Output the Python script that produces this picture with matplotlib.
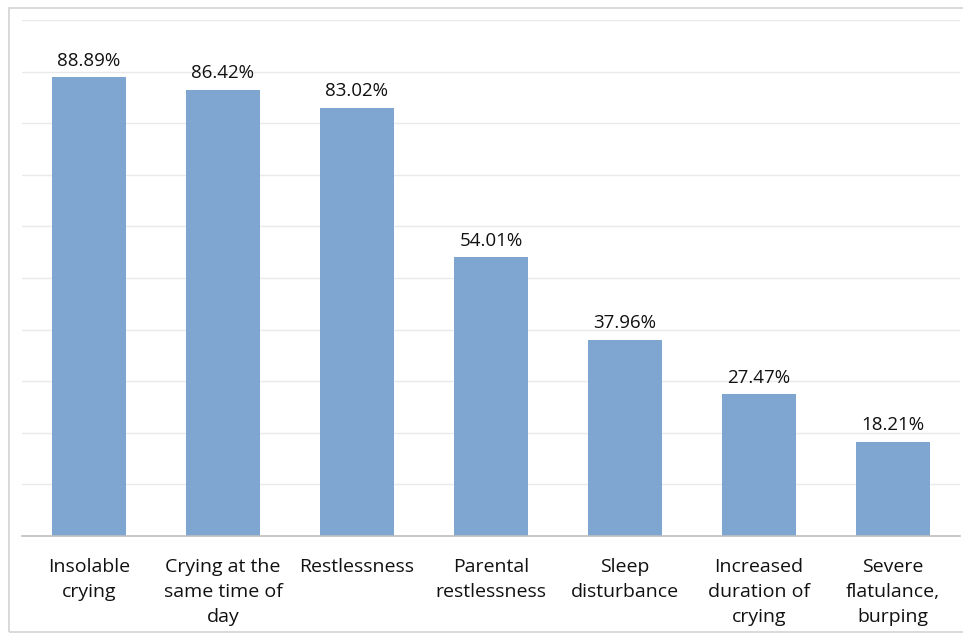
import matplotlib
matplotlib.use("Agg")
import matplotlib.pyplot as plt
from matplotlib.patches import Rectangle

categories = [
    "Insolable\ncrying",
    "Crying at the\nsame time of\nday",
    "Restlessness",
    "Parental\nrestlessness",
    "Sleep\ndisturbance",
    "Increased\nduration of\ncrying",
    "Severe\nflatulance,\nburping",
]
values = [88.89, 86.42, 83.02, 54.01, 37.96, 27.47, 18.21]
value_labels = ["88.89%", "86.42%", "83.02%", "54.01%", "37.96%", "27.47%", "18.21%"]

plt.rcParams["font.family"] = ["Open Sans", "DejaVu Sans"]

W, H = 963, 637
fig = plt.figure(figsize=(W / 100, H / 100), dpi=100)
fig.patch.set_facecolor("white")

# light frame around the chart area (right edge runs off the canvas)
fig.add_artist(Rectangle((9 / W, 1 - 632 / H), (975 - 9) / W, (632 - 8) / H,
                         transform=fig.transFigure, fill=False,
                         edgecolor="#D9D9D9", linewidth=1.4))

ax = fig.add_axes([22 / W, 1 - 536 / H, (960 - 22) / W, (536 - 20) / H])
x = list(range(len(categories)))
ax.bar(x, values, width=0.55, color="#7FA6D1", zorder=2)

for xi, v, lab in zip(x, values, value_labels):
    ax.text(xi, v + 1.5, lab, ha="center", va="bottom", fontsize=13.5, color="#111111")

ax.set_xlim(-0.5, len(categories) - 0.5)
ax.set_ylim(0, 100)
ax.set_yticks(range(0, 101, 10))
ax.yaxis.grid(True, color="#EAEAEA", linewidth=1, zorder=0)
ax.tick_params(axis="y", left=False, labelleft=False)
ax.tick_params(axis="x", length=0, pad=16)
ax.set_xticks(x)
ax.set_xticklabels(categories, fontsize=14, color="#111111", linespacing=1.5)
for lbl in ax.get_xticklabels():
    lbl.set_verticalalignment("top")
for s in ["top", "right", "left"]:
    ax.spines[s].set_visible(False)
ax.spines["bottom"].set_color("#BFBFBF")
ax.spines["bottom"].set_linewidth(1.2)

fig.savefig("out.png", dpi=100)
